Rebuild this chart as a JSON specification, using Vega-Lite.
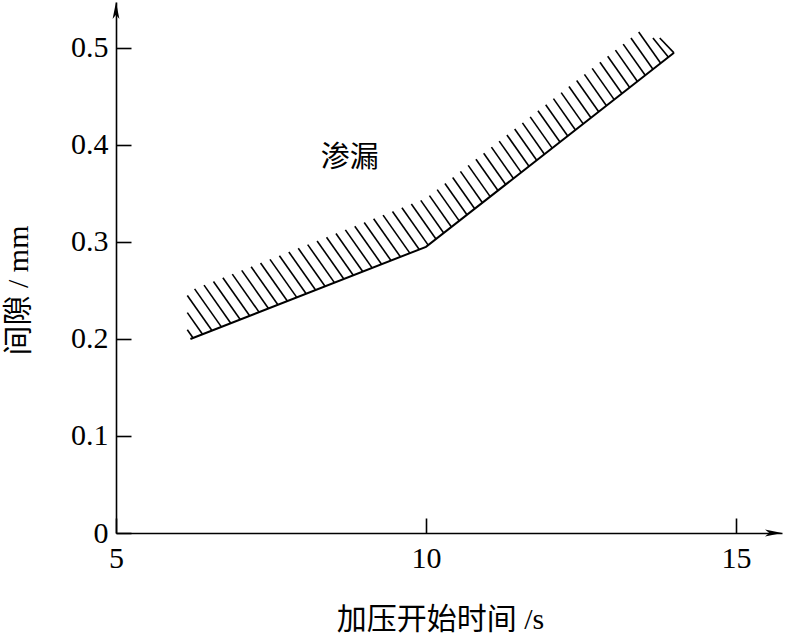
{
  "$schema": "https://vega.github.io/schema/vega-lite/v6.json",
  "width": 666,
  "height": 531,
  "autosize": "none",
  "padding": {"left": 116, "top": 2, "right": 13, "bottom": 105},
  "background": "white",
  "config": {
    "view": {"stroke": null},
    "font": "Liberation Serif, Noto Sans CJK SC",
    "axis": {
      "grid": false,
      "labelFlush": false,
      "domainColor": "black",
      "domainWidth": 1.6,
      "tickColor": "black",
      "tickWidth": 1.6,
      "labelColor": "black",
      "labelFont": "Liberation Serif",
      "labelFontSize": 30,
      "titleColor": "black",
      "titleFont": "Liberation Serif, Noto Sans CJK SC",
      "titleFontSize": 30,
      "titleFontWeight": "normal"
    }
  },
  "datasets": {
    "hatch": [
      {"x": 6.2435, "y": 0.2011, "x2": 6.15, "y2": 0.2096},
      {"x": 6.3955, "y": 0.2049, "x2": 6.15, "y2": 0.2272},
      {"x": 6.5475, "y": 0.2087, "x2": 6.15, "y2": 0.2448},
      {"x": 6.6995, "y": 0.2125, "x2": 6.2677, "y2": 0.2517},
      {"x": 6.8515, "y": 0.2163, "x2": 6.4197, "y2": 0.2555},
      {"x": 7.0035, "y": 0.2201, "x2": 6.5717, "y2": 0.2593},
      {"x": 7.1554, "y": 0.2239, "x2": 6.7237, "y2": 0.2631},
      {"x": 7.3074, "y": 0.2277, "x2": 6.8757, "y2": 0.2669},
      {"x": 7.4594, "y": 0.2315, "x2": 7.0277, "y2": 0.2707},
      {"x": 7.6114, "y": 0.2353, "x2": 7.1796, "y2": 0.2745},
      {"x": 7.7634, "y": 0.2391, "x2": 7.3316, "y2": 0.2783},
      {"x": 7.9154, "y": 0.2429, "x2": 7.4836, "y2": 0.2821},
      {"x": 8.0674, "y": 0.2467, "x2": 7.6356, "y2": 0.2859},
      {"x": 8.2194, "y": 0.2505, "x2": 7.7876, "y2": 0.2897},
      {"x": 8.3714, "y": 0.2543, "x2": 7.9396, "y2": 0.2935},
      {"x": 8.5234, "y": 0.2581, "x2": 8.0916, "y2": 0.2973},
      {"x": 8.6753, "y": 0.2619, "x2": 8.2436, "y2": 0.3011},
      {"x": 8.8273, "y": 0.2657, "x2": 8.3956, "y2": 0.3049},
      {"x": 8.9793, "y": 0.2695, "x2": 8.5476, "y2": 0.3087},
      {"x": 9.1313, "y": 0.2733, "x2": 8.6995, "y2": 0.3125},
      {"x": 9.2833, "y": 0.2771, "x2": 8.8515, "y2": 0.3163},
      {"x": 9.4353, "y": 0.2809, "x2": 9.0035, "y2": 0.3201},
      {"x": 9.5873, "y": 0.2847, "x2": 9.1555, "y2": 0.3239},
      {"x": 9.7393, "y": 0.2885, "x2": 9.3075, "y2": 0.3277},
      {"x": 9.8913, "y": 0.2923, "x2": 9.4595, "y2": 0.3315},
      {"x": 10.0356, "y": 0.2968, "x2": 9.6115, "y2": 0.3353},
      {"x": 10.1606, "y": 0.303, "x2": 9.7635, "y2": 0.3391},
      {"x": 10.2856, "y": 0.3093, "x2": 9.9155, "y2": 0.3429},
      {"x": 10.4106, "y": 0.3155, "x2": 10.0555, "y2": 0.3478},
      {"x": 10.5356, "y": 0.3218, "x2": 10.1805, "y2": 0.354},
      {"x": 10.6606, "y": 0.328, "x2": 10.3055, "y2": 0.3603},
      {"x": 10.7856, "y": 0.3343, "x2": 10.4305, "y2": 0.3665},
      {"x": 10.9106, "y": 0.3405, "x2": 10.5555, "y2": 0.3728},
      {"x": 11.0356, "y": 0.3468, "x2": 10.6805, "y2": 0.379},
      {"x": 11.1606, "y": 0.353, "x2": 10.8055, "y2": 0.3853},
      {"x": 11.2856, "y": 0.3593, "x2": 10.9305, "y2": 0.3915},
      {"x": 11.4106, "y": 0.3655, "x2": 11.0555, "y2": 0.3978},
      {"x": 11.5356, "y": 0.3718, "x2": 11.1805, "y2": 0.404},
      {"x": 11.6606, "y": 0.378, "x2": 11.3055, "y2": 0.4103},
      {"x": 11.7856, "y": 0.3843, "x2": 11.4305, "y2": 0.4165},
      {"x": 11.9106, "y": 0.3905, "x2": 11.5555, "y2": 0.4228},
      {"x": 12.0356, "y": 0.3968, "x2": 11.6805, "y2": 0.429},
      {"x": 12.1606, "y": 0.403, "x2": 11.8055, "y2": 0.4353},
      {"x": 12.2856, "y": 0.4093, "x2": 11.9305, "y2": 0.4415},
      {"x": 12.4106, "y": 0.4155, "x2": 12.0555, "y2": 0.4478},
      {"x": 12.5356, "y": 0.4218, "x2": 12.1805, "y2": 0.454},
      {"x": 12.6606, "y": 0.428, "x2": 12.3055, "y2": 0.4603},
      {"x": 12.7856, "y": 0.4343, "x2": 12.4305, "y2": 0.4665},
      {"x": 12.9106, "y": 0.4405, "x2": 12.5555, "y2": 0.4728},
      {"x": 13.0356, "y": 0.4468, "x2": 12.6805, "y2": 0.479},
      {"x": 13.1606, "y": 0.453, "x2": 12.8055, "y2": 0.4853},
      {"x": 13.2856, "y": 0.4593, "x2": 12.9305, "y2": 0.4915},
      {"x": 13.4106, "y": 0.4655, "x2": 13.0555, "y2": 0.4978},
      {"x": 13.5356, "y": 0.4718, "x2": 13.1805, "y2": 0.504},
      {"x": 13.6606, "y": 0.478, "x2": 13.3055, "y2": 0.5103},
      {"x": 13.7856, "y": 0.4843, "x2": 13.4305, "y2": 0.5165},
      {"x": 13.9106, "y": 0.4905, "x2": 13.66, "y2": 0.5104},
      {"x": 14.0, "y": 0.495, "x2": 13.77, "y2": 0.5103}
    ],
    "boundary": [
      {"x": 6.2, "y": 0.2},
      {"x": 10.0, "y": 0.295},
      {"x": 14.0, "y": 0.495}
    ],
    "xarrow": [{"x": 15.742, "y": 0}],
    "yarrow": [{"x": 5, "y": 0.5474}],
    "labels": [{"x": 8.77, "y": 0.387, "text": "渗漏"}]
  },
  "layer": [
    {
      "data": {"name": "hatch"},
      "mark": {"type": "rule", "color": "black", "strokeWidth": 1.6},
      "encoding": {
        "x": {
          "field": "x", "type": "quantitative",
          "scale": {"domain": [5, 15.742], "nice": false, "zero": false},
          "axis": {
            "values": [5, 10, 15],
            "format": "~g",
            "tickSize": -15,
            "labelPadding": 25,
            "title": "加压开始时间 /s",
            "titlePadding": 31,
            "titleX": 324
          }
        },
        "y": {
          "field": "y", "type": "quantitative",
          "scale": {"domain": [0, 0.5474], "nice": false, "zero": false},
          "axis": {
            "values": [0, 0.1, 0.2, 0.3, 0.4, 0.5],
            "format": "~g",
            "tickSize": -15,
            "labelPadding": 23,
            "title": "间隙 / mm",
            "titlePadding": 37,
            "titleY": 288
          }
        },
        "x2": {"field": "x2"},
        "y2": {"field": "y2"}
      }
    },
    {
      "data": {"name": "boundary"},
      "mark": {"type": "line", "color": "black", "strokeWidth": 2},
      "encoding": {
        "x": {"field": "x", "type": "quantitative"},
        "y": {"field": "y", "type": "quantitative"}
      }
    },
    {
      "data": {"name": "xarrow"},
      "mark": {"type": "point", "filled": true, "color": "black", "opacity": 1, "size": 289,
               "shape": "M0,0 L-2,-0.4 L-1.5,0 L-2,0.4 Z"},
      "encoding": {
        "x": {"field": "x", "type": "quantitative"},
        "y": {"field": "y", "type": "quantitative"}
      }
    },
    {
      "data": {"name": "yarrow"},
      "mark": {"type": "point", "filled": true, "color": "black", "opacity": 1, "size": 289,
               "shape": "M0,0 L-0.4,2 L0,1.5 L0.4,2 Z"},
      "encoding": {
        "x": {"field": "x", "type": "quantitative"},
        "y": {"field": "y", "type": "quantitative"}
      }
    },
    {
      "data": {"name": "labels"},
      "mark": {"type": "text", "font": "Noto Sans CJK SC", "fontSize": 29, "color": "black", "align": "center", "baseline": "middle"},
      "encoding": {
        "x": {"field": "x", "type": "quantitative"},
        "y": {"field": "y", "type": "quantitative"},
        "text": {"field": "text"}
      }
    }
  ]
}
